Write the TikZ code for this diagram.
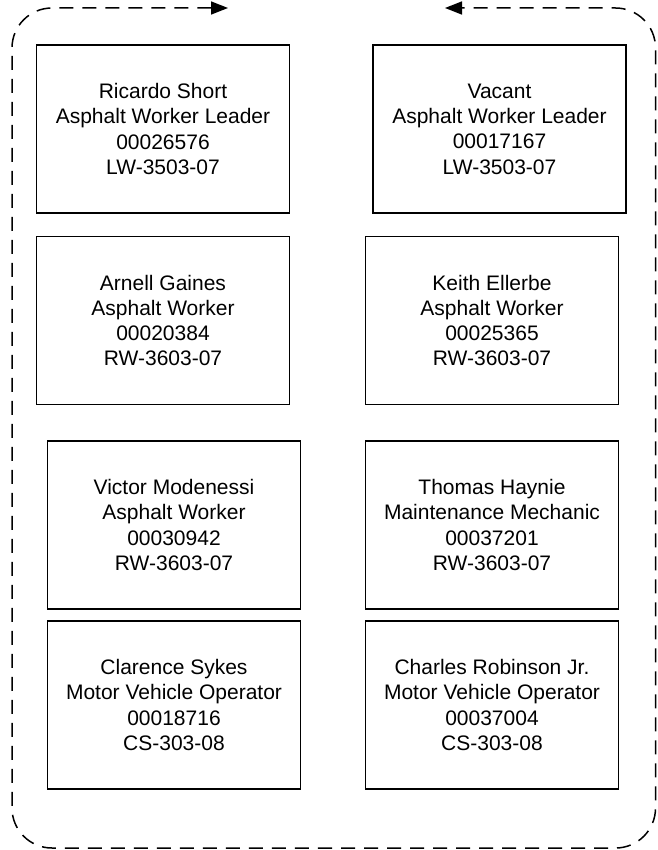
\documentclass[tikz,border=0pt]{standalone}
\usepackage{fontspec}
\setmainfont{Liberation Sans}
\usetikzlibrary{arrows.meta}
\begin{document}
\begin{tikzpicture}[x=1pt,y=-1pt,
  person/.style={draw, line width=1.6pt, minimum width=253pt, minimum height=168pt,
    align=center, inner sep=0pt, font=\fontsize{21}{25.3}\selectfont},
  loopline/.style={line width=1.5pt, dash pattern=on 14pt off 9pt, rounded corners=40pt,
    {Triangle[length=17pt,width=13pt]}-{Triangle[length=17pt,width=13pt]}}]
\useasboundingbox (0,0) rectangle (657,850);
\node[person] (ricardo) at (163,129) {Ricardo Short\\Asphalt Worker Leader\\00026576\\LW-3503-07};
\node[person] (vacant) at (499.5,129) {Vacant\\Asphalt Worker Leader\\00017167\\LW-3503-07};
\node[person] (arnell) at (163,320.5) {Arnell Gaines\\Asphalt Worker\\00020384\\RW-3603-07};
\node[person] (keith) at (492,320.5) {Keith Ellerbe\\Asphalt Worker\\00025365\\RW-3603-07};
\node[person] (victor) at (174,525) {Victor Modenessi\\Asphalt Worker\\00030942\\RW-3603-07};
\node[person] (thomas) at (492,525) {Thomas Haynie\\Maintenance Mechanic\\00037201\\RW-3603-07};
\node[person] (clarence) at (174,705) {Clarence Sykes\\Motor Vehicle Operator\\00018716\\CS-303-08};
\node[person] (charles) at (492,705) {Charles Robinson Jr.\\Motor Vehicle Operator\\00037004\\CS-303-08};
\coordinate (tipL) at (228,8);
\coordinate (tipR) at (445,8);
\coordinate (cTL) at (12,8);
\coordinate (cBL) at (12,848);
\coordinate (cBR) at (655.5,848);
\coordinate (cTR) at (655.5,8);
\draw[loopline] (tipL) -- (cTL) -- (cBL) -- (cBR) -- (cTR) -- (tipR);
\end{tikzpicture}
\end{document}
